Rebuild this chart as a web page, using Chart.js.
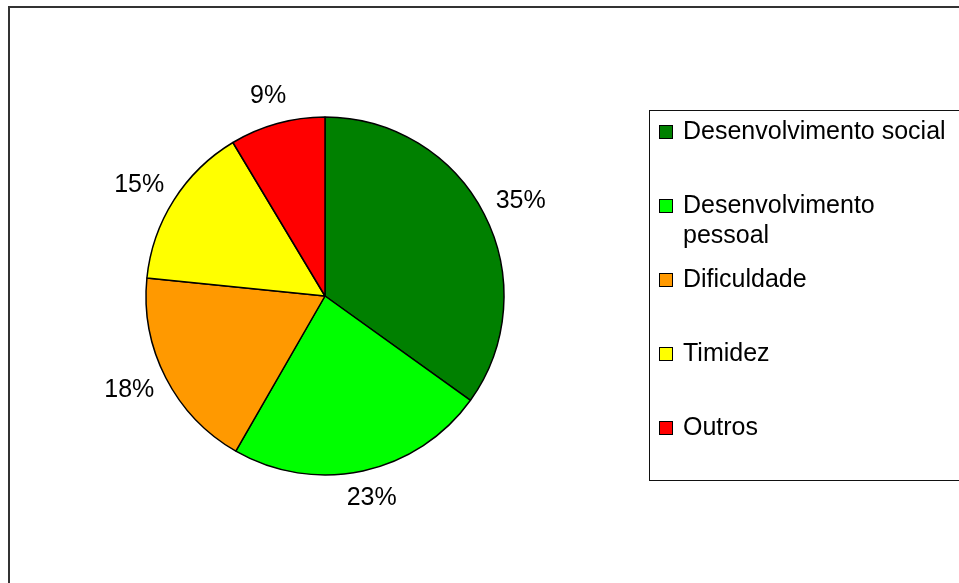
<!DOCTYPE html>
<html lang="pt">
<head>
    <meta charset="UTF-8">
    <title>Pie chart</title>
    <script src="https://cdn.jsdelivr.net/npm/chart.js@4.4.0/dist/chart.umd.min.js"></script>
    <style>
        html, body { margin: 0; padding: 0; background: #fff; }
        canvas { display: block; }
    </style>
</head>
<body>
    <canvas id="chart" width="959" height="583"></canvas>
    <script>
    const categories = ['Desenvolvimento social', 'Desenvolvimento pessoal', 'Dificuldade', 'Timidez', 'Outros'];
    const shares = [34.9, 23.4, 18.3, 14.8, 8.6];
    const sliceColors = ['#008000', '#00FF00', '#FF9900', '#FFFF00', '#FF0000'];

    const FONT = '25px "Liberation Sans", Arial, sans-serif';

    // frame round the whole chart (right/bottom edges fall outside the picture)
    const framePlugin = {
        id: 'frame',
        beforeDraw(chart) {
            const ctx = chart.ctx;
            ctx.save();
            ctx.strokeStyle = '#333';
            ctx.lineWidth = 2;
            ctx.strokeRect(9, 7, 1100, 1100);
            ctx.restore();
        }
    };

    // percent labels just outside each slice
    const pctLabels = {
        id: 'pctLabels',
        afterDatasetsDraw(chart) {
            const ctx = chart.ctx;
            const meta = chart.getDatasetMeta(0);
            const data = chart.data.datasets[0].data;
            const total = data.reduce((a, b) => a + b, 0);
            ctx.save();
            ctx.font = FONT;
            ctx.fillStyle = '#000';
            ctx.textAlign = 'center';
            ctx.textBaseline = 'middle';
            meta.data.forEach((arc, i) => {
                const p = arc.getProps(['x', 'y', 'startAngle', 'endAngle', 'outerRadius'], true);
                const mid = (p.startAngle + p.endAngle) / 2;
                const ux = Math.cos(mid), uy = Math.sin(mid);
                const txt = Math.round(data[i] / total * 100) + '%';
                const w = ctx.measureText(txt).width;
                const h = 24;
                const r = p.outerRadius + 16;
                const cx = p.x + ux * r + ux * w / 2;
                const cy = p.y + uy * r + uy * h / 2;
                ctx.fillText(txt, cx, cy);
            });
            ctx.restore();
        }
    };

    // legend box on the right, Excel style
    const boxLegend = {
        id: 'boxLegend',
        afterDraw(chart) {
            const ctx = chart.ctx;
            const left = 649.5, top = 110.5, bottom = 480.5;
            const textX = 683, maxW = chart.width - textX - 4;
            const first = 132, pitch = 74, lineH = 30;
            ctx.save();
            ctx.strokeStyle = '#111';
            ctx.lineWidth = 1;
            ctx.strokeRect(left, top, 1000, bottom - top);
            ctx.font = FONT;
            ctx.textBaseline = 'middle';
            chart.data.labels.forEach((lab, i) => {
                const y = first + i * pitch;
                ctx.fillStyle = chart.data.datasets[0].backgroundColor[i];
                ctx.fillRect(659, y - 7, 14, 14);
                ctx.strokeStyle = '#000';
                ctx.strokeRect(659.5, y - 6.5, 13, 13);
                // simple word wrap
                const words = lab.split(' ');
                const lines = [];
                let line = '';
                words.forEach(wd => {
                    const test = line ? line + ' ' + wd : wd;
                    if (line && ctx.measureText(test).width > maxW) {
                        lines.push(line);
                        line = wd;
                    } else {
                        line = test;
                    }
                });
                lines.push(line);
                ctx.fillStyle = '#000';
                lines.forEach((l, k) => ctx.fillText(l, textX, y + k * lineH));
            });
            ctx.restore();
        }
    };

    const ctx = document.getElementById('chart').getContext('2d');
    new Chart(ctx, {
        type: 'pie',
        data: {
            labels: categories,
            datasets: [{
                data: shares,
                backgroundColor: sliceColors,
                borderColor: '#000',
                borderWidth: 1.5,
                radius: 179,
                hoverOffset: 0
            }]
        },
        options: {
            responsive: false,
            devicePixelRatio: 1,
            animation: false,
            events: [],
            layout: { padding: { left: 146, right: 455, top: 117, bottom: 108 } },
            plugins: {
                legend: { display: false },
                tooltip: { enabled: false }
            }
        },
        plugins: [framePlugin, pctLabels, boxLegend]
    });
    </script>
</body>
</html>
